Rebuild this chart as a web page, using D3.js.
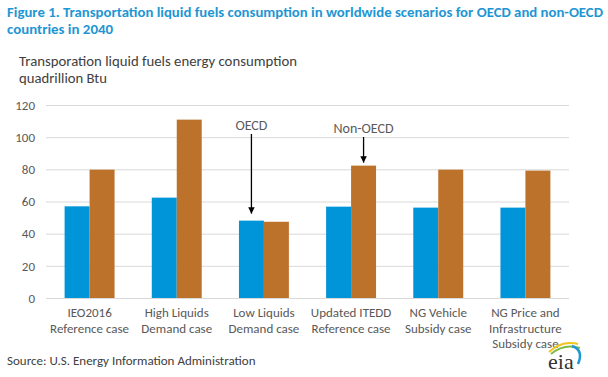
<!DOCTYPE html>
<html><head><meta charset="utf-8">
<script src="https://cdn.jsdelivr.net/npm/d3@7"></script>
<style>body{margin:0;background:#fff;} svg{display:block;font-family:Carlito,Calibri,"Open Sans",sans-serif;}</style>
</head><body>
<svg id="c" width="608" height="377"></svg>
<script>
const categories = [
  ["IEO2016","Reference case"],
  ["High Liquids","Demand case"],
  ["Low Liquids","Demand case"],
  ["Updated ITEDD","Reference case"],
  ["NG Vehicle","Subsidy case"],
  ["NG Price and","Infrastructure","Subsidy case"]
];
const oecd = [57, 62.4, 48.1, 56.8, 56.2, 56.2];
const nonOecd = [79.8, 110.9, 47.4, 82.3, 79.8, 79.2];
const yTicks = [0,20,40,60,80,100,120];
const seriesNames = ["OECD","Non-OECD"];
const colors = ["#0095D8","#BC722A"];

(function(){
const svg = d3.select("#c");
const mLeft = 46, mRight = 569, mTop = 105, mBottom = 298;
const x = d3.scaleBand().domain(d3.range(categories.length)).range([mLeft,mRight]).paddingInner(0.427).paddingOuter(0.2135);
const x1 = d3.scaleBand().domain([0,1]).range([0,x.bandwidth()]);
const y = d3.scaleLinear().domain([0,120]).range([mBottom,mTop]);

// Title
const title = svg.append("g").attr("fill","#1E96D3").attr("font-weight","bold").attr("font-size",14);
title.append("text").attr("x",7).attr("y",17).attr("textLength",596).attr("lengthAdjust","spacingAndGlyphs")
  .text("Figure 1. Transportation liquid fuels consumption in worldwide scenarios for OECD and non-OECD");
title.append("text").attr("x",7).attr("y",34).attr("textLength",106).attr("lengthAdjust","spacingAndGlyphs").text("countries in 2040");

const sub = svg.append("g").attr("fill","#404040").attr("font-size",14);
sub.append("text").attr("x",19).attr("y",66).attr("textLength",278).attr("lengthAdjust","spacingAndGlyphs").text("Transporation liquid fuels energy consumption");
sub.append("text").attr("x",19).attr("y",83).attr("textLength",88).attr("lengthAdjust","spacingAndGlyphs").text("quadrillion Btu");

// grid
svg.append("g").selectAll("line").data(yTicks).join("line")
  .attr("x1",mLeft).attr("x2",mRight).attr("y1",d=>y(d)+0.5).attr("y2",d=>y(d)+0.5)
  .attr("stroke","#D9D9D9").attr("stroke-width",1);

// y axis labels
const yAxis = d3.axisLeft(y).tickValues(yTicks).tickSize(0).tickPadding(11);
const ya = svg.append("g").attr("transform",`translate(${mLeft},0)`).call(yAxis);
ya.select(".domain").remove();
ya.selectAll("text").attr("font-size",13).attr("fill","#595959").attr("font-family","Carlito,Calibri,'Open Sans',sans-serif");

// bars
const data = categories.map((c,i)=>({i, vals:[oecd[i], nonOecd[i]]}));
const g = svg.append("g").selectAll("g").data(data).join("g").attr("transform",d=>`translate(${x(d.i)},0)`);
g.selectAll("rect").data(d=>d.vals.map((v,k)=>({v,k}))).join("rect")
  .attr("x",d=>x1(d.k)).attr("width",x1.bandwidth())
  .attr("y",d=>y(d.v)).attr("height",d=>y(0)-y(d.v)).attr("fill",d=>colors[d.k]);

// category labels
const xa = svg.append("g").attr("fill","#595959").attr("font-size",13).attr("text-anchor","middle");
categories.forEach((lines,i)=>{
  lines.forEach((t,j)=>{
    xa.append("text").attr("x",x(i)+x.bandwidth()/2).attr("y",317+j*15.5).text(t);
  });
});

// annotations
const defs = svg.append("defs");
defs.append("marker").attr("id","ah").attr("viewBox","0 0 10 10").attr("refX",10).attr("refY",5)
  .attr("markerWidth",5).attr("markerHeight",5).attr("orient","auto").attr("markerUnits","strokeWidth")
  .append("path").attr("d","M0,0 L10,5 L0,10 Z").attr("fill","#000");
const ann = [
  {label:seriesNames[0], cat:2, k:0, ty:130, y1:134, gap:7},
  {label:seriesNames[1], cat:3, k:1, ty:133, y1:137, gap:3}
];
ann.forEach(a=>{
  const ax = x(a.cat)+x1(a.k)+x1.bandwidth()/2;
  const val = a.k===0 ? oecd[a.cat] : nonOecd[a.cat];
  svg.append("text").attr("x",ax).attr("y",a.ty).attr("text-anchor","middle").attr("font-size",14).attr("fill","#595959").text(a.label);
  svg.append("line").attr("x1",ax).attr("x2",ax).attr("y1",a.y1).attr("y2",y(val)-a.gap)
    .attr("stroke","#000").attr("stroke-width",1.3).attr("marker-end","url(#ah)");
});

// source
svg.append("text").attr("x",7).attr("y",365).attr("font-size",13).attr("fill","#404040").text("Source: U.S. Energy Information Administration");

// eia logo
const logo = svg.append("g");
logo.append("path").attr("d","M549,352 Q562,340 578,344").attr("fill","none").attr("stroke","#F2C318").attr("stroke-width",2);
logo.append("path").attr("d","M551,354 Q564,343 580,348").attr("fill","none").attr("stroke","#7DBB42").attr("stroke-width",2);
logo.append("path").attr("d","M572,346 Q584,350 578,364").attr("fill","none").attr("stroke","#1E96D3").attr("stroke-width",2.5);
logo.append("text").attr("x",548).attr("y",369).attr("font-family","'Liberation Serif',serif").attr("font-size",22).attr("fill","#333").text("eia");
})();
</script>
</body></html>
